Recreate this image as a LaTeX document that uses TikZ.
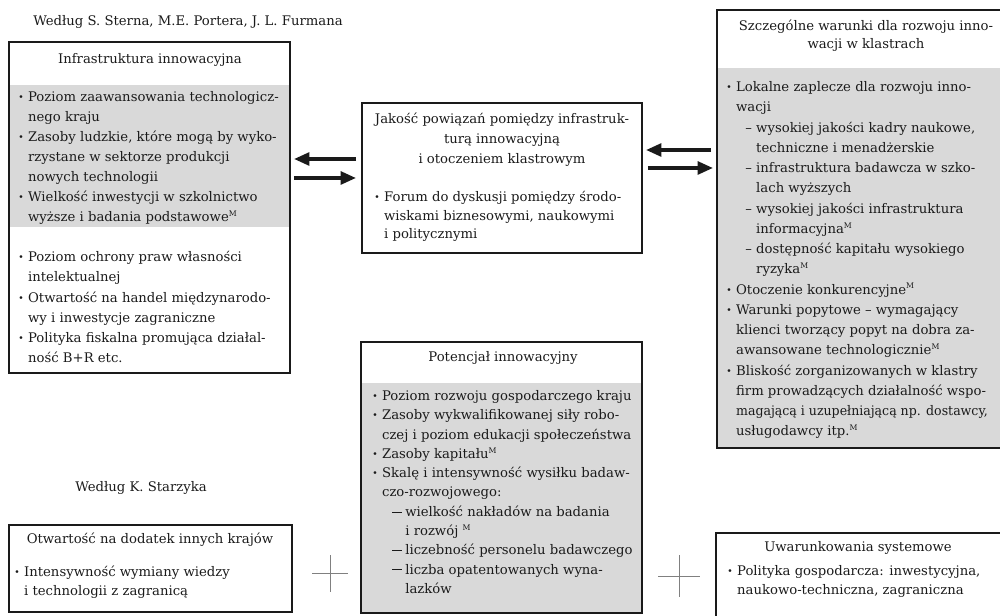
\documentclass[tikz,border=0pt]{standalone}
\usepackage{fontspec}
\setmainfont{DejaVu Serif}
\usetikzlibrary{arrows.meta,fit,calc}
\definecolor{shadegray}{HTML}{D9D9D9}
\definecolor{ink}{HTML}{1A1A1A}
\definecolor{crossgray}{HTML}{808080}
\newcommand{\txt}[1]{\fontsize{9.4}{#1}\selectfont}
\newcommand{\Bu}{\makebox[7pt][l]{\raisebox{0.15ex}{\scalebox{0.7}{•}}}}
\newcommand{\Ci}{\hspace*{7pt}}
\newcommand{\Da}{\hspace*{13.5pt}\makebox[7.8pt][l]{–}}
\newcommand{\Dc}{\hspace*{21.3pt}}
\newcommand{\Ea}{\hspace*{14.2pt}\makebox[9.3pt][l]{\rule[0.55ex]{7pt}{0.6pt}}}
\newcommand{\Ec}{\hspace*{23.5pt}}
\newcommand{\Ms}{\textsuperscript{\fontsize{5.5}{6}\selectfont M}}
\begin{document}
\begin{tikzpicture}[x=0.025cm,y=-0.025cm,
  frame/.style={draw=ink, line width=1.3pt, inner sep=0pt},
  body/.style={text=ink, inner sep=0pt, align=left, anchor=north west},
  ttl/.style={text=ink, inner sep=0pt, align=center, anchor=north},
  bigarrow/.style={draw=ink, line width=2.6pt, -{Triangle[length=11pt,width=9pt]}},
  cross/.style={draw=crossgray, line width=0.7pt}]
\useasboundingbox (0,0) rectangle (1000,616);
\clip (0,0) rectangle (1000,616);
% shaded areas
\fill[shadegray] (10,85) rectangle (289,227);
\fill[shadegray] (718,68) rectangle (1015,447);
\fill[shadegray] (362,383) rectangle (641,612);
% frames
\node[frame, fit={(9,42) (290,373)}] (infra) {};
\node[frame, fit={(362,103) (642,253)}] (quality) {};
\node[frame, fit={(717,10) (1015,448)}] (cluster) {};
\node[frame, fit={(361,342) (642,613)}] (potential) {};
\node[frame, fit={(9,525) (292,612)}] (openness) {};
\node[frame, fit={(716,533) (1015,640)}] (systemic) {};
% headers
\node[body, font=\txt{14.2}] (hdrA) at (33,11.4) {\strut Według S. Sterna, M.E. Portera, J. L. Furmana};
\node[body, font=\txt{14.2}] (hdrB) at (75,477.4) {\strut Według K. Starzyka};
% box A
\node[ttl, font=\txt{14.2}] (ttlA) at (150,49.4) {\strut Infrastruktura innowacyjna};
\node[body, font=\txt{14.2}] (txtA1) at (18,87.4) {\strut\Bu Poziom zaawansowania technologicz-\\
\Ci nego kraju\\
\Bu Zasoby ludzkie, które mogą by wyko-\\
\Ci rzystane w sektorze produkcji\\
\Ci nowych technologii\\
\Bu Wielkość inwestycji w szkolnictwo\\
\Ci wyższe i badania podstawowe\Ms};
\node[body, font=\txt{14.4}] (txtA2) at (18,247.2) {\strut\Bu Poziom ochrony praw własności\\
\Ci intelektualnej\\
\Bu Otwartość na handel międzynarodo-\\
\Ci wy i inwestycje zagraniczne\\
\Bu Polityka fiskalna promująca działal-\\
\Ci ność B+R etc.};
% box B
\node[ttl, font=\txt{14.2}] (ttlB) at (502,109.4) {\strut Jakość powiązań pomiędzy infrastruk-\\turą innowacyjną\\i otoczeniem klastrowym};
\node[body, font=\txt{13.2}] (txtB) at (374,188.4) {\strut\Bu Forum do dyskusji pomiędzy środo-\\
\Ci wiskami biznesowymi, naukowymi\\
\Ci i politycznymi};
% box C
\node[ttl, font=\txt{12.8}] (ttlC) at (866,17.8) {\strut Szczególne warunki dla rozwoju inno-\\wacji w klastrach};
\node[body, font=\txt{14.4}] (txtC) at (726,77.2) {\strut\Bu Lokalne zaplecze dla rozwoju inno-\\
\Ci wacji\\
\Da wysokiej jakości kadry naukowe,\\
\Dc techniczne i menadżerskie\\
\Da infrastruktura badawcza w szko-\\
\Dc lach wyższych\\
\Da wysokiej jakości infrastruktura\\
\Dc informacyjna\Ms\\
\Da dostępność kapitału wysokiego\\
\Dc ryzyka\Ms\\
\Bu Otoczenie konkurencyjne\Ms\\
\Bu Warunki popytowe – wymagający\\
\Ci klienci tworzący popyt na dobra za-\\
\Ci awansowane technologicznie\Ms\\
\Bu Bliskość zorganizowanych w klastry\\
\Ci firm prowadzących działalność wspo-\\
\Ci \scalebox{0.95}[1]{magającą i uzupełniającą np. dostawcy,}\\
\Ci usługodawcy itp.\Ms};
% box D
\node[ttl, font=\txt{14.2}] (ttlD) at (503,347.4) {\strut Potencjał innowacyjny};
\node[body, font=\txt{13.7}] (txtD) at (372,386.9) {\strut\Bu Poziom rozwoju gospodarczego kraju\\
\Bu Zasoby wykwalifikowanej siły robo-\\
\Ci czej i poziom edukacji społeczeństwa\\
\Bu Zasoby kapitału\Ms\\
\Bu Skalę i intensywność wysiłku badaw-\\
\Ci czo-rozwojowego:\\
\Ea wielkość nakładów na badania\\
\Ec i rozwój \Ms\\
\Ea liczebność personelu badawczego\\
\Ea liczba opatentowanych wyna-\\
\Ec lazków};
% box E
\node[ttl, font=\txt{14.2}] (ttlE) at (150,529.4) {\strut Otwartość na dodatek innych krajów};
\node[body, font=\txt{13.5}] (txtE) at (14,563) {\strut\Bu Intensywność wymiany wiedzy\\
\Ci i technologii z zagranicą};
% box F
\node[ttl, font=\txt{14.2}] (ttlF) at (858,537.4) {\strut Uwarunkowania systemowe};
\node[body, font=\txt{13.5}] (txtF) at (727,562) {\strut\Bu Polityka gospodarcza: inwestycyjna,\\
\Ci naukowo-techniczna, zagraniczna};
% arrows
\coordinate (yL1) at (0,159);
\coordinate (yL2) at (0,178);
\coordinate (yR1) at (0,150);
\coordinate (yR2) at (0,168);
\draw[bigarrow] ($(quality.west |- yL1)+(-5,0)$) -- ($(infra.east |- yL1)+(3,0)$);
\draw[bigarrow] ($(infra.east |- yL2)+(3,0)$) -- ($(quality.west |- yL2)+(-5,0)$);
\draw[bigarrow] ($(cluster.west |- yR1)+(-5,0)$) -- ($(quality.east |- yR1)+(3,0)$);
\draw[bigarrow] ($(quality.east |- yR2)+(5,0)$) -- ($(cluster.west |- yR2)+(-3,0)$);
% plus signs
\draw[cross] (312,573) -- (348,573);
\draw[cross] (330,555) -- (330,592);
\draw[cross] (658,576) -- (700,576);
\draw[cross] (679,555) -- (679,597);
\end{tikzpicture}
\end{document}
